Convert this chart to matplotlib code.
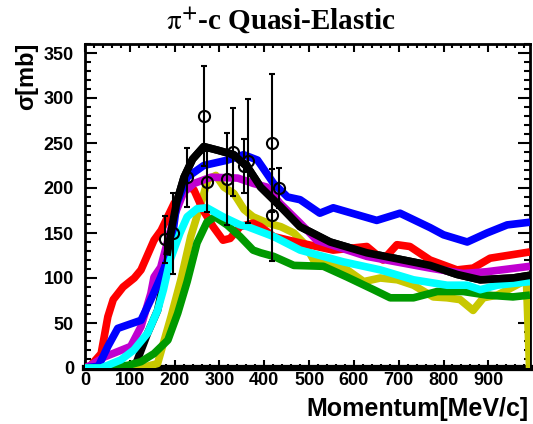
import matplotlib
matplotlib.use("Agg")
from matplotlib import pyplot as plt
from matplotlib.ticker import MultipleLocator

# curves (momentum in MeV/c, sigma in mb)
yellow_x = [0, 125, 162, 192, 214, 236, 263, 274, 292, 310, 332, 355, 375, 408, 437, 466, 490, 510, 548, 585, 622, 659, 697, 733, 777, 808, 837, 866, 889, 920, 955, 985, 992]
yellow_y = [0, 0, 5, 57, 98, 146, 190, 209, 214, 201, 194, 176, 168, 161, 157, 150, 138, 120, 118, 109, 96, 100, 98, 92, 79, 78, 76, 64, 78, 81, 90, 98, 0]

red_x = [0, 13, 36, 51, 63, 85, 110, 125, 154, 170, 199, 230, 243, 263, 286, 308, 324, 346, 375, 392, 421, 480, 554, 629, 665, 696, 725, 770, 830, 866, 904, 993]
red_y = [0, 3, 16, 57, 76, 90, 100, 109, 142, 153, 183, 201, 198, 176, 157, 142, 144, 157, 161, 157, 146, 139, 131, 135, 120, 137, 135, 120, 109, 111, 122, 129]

magenta_x = [0, 13, 42, 102, 125, 147, 154, 169, 200, 220, 243, 281, 341, 376, 406, 435, 480, 517, 629, 770, 844, 897, 993]
magenta_y = [0, 3, 12, 24, 46, 83, 101, 112, 170, 195, 205, 212, 211, 205, 201, 183, 161, 142, 124, 111, 105, 107, 113]

blue_x = [0, 30, 51, 73, 96, 125, 147, 169, 190, 205, 228, 265, 318, 354, 385, 421, 452, 480, 524, 554, 651, 703, 770, 800, 853, 897, 942, 993]
blue_y = [0, 2, 24, 44, 48, 53, 76, 101, 128, 183, 212, 225, 231, 237, 231, 205, 190, 187, 172, 178, 164, 172, 156, 148, 140, 150, 159, 162]

green_x = [0, 30, 58, 96, 125, 154, 185, 207, 228, 250, 272, 290, 317, 346, 375, 392, 421, 466, 532, 585, 644, 681, 733, 786, 844, 897, 955, 993]
green_y = [0, 0, 1, 3, 7, 16, 31, 61, 96, 139, 162, 168, 159, 146, 131, 128, 124, 114, 113, 101, 87, 78, 78, 85, 85, 81, 79, 81]

cyan_x = [0, 36, 80, 109, 140, 162, 175, 190, 212, 228, 250, 272, 308, 346, 363, 421, 480, 576, 659, 733, 808, 853, 882, 920, 993]
cyan_y = [0, 0, 9, 20, 39, 64, 87, 120, 150, 168, 177, 178, 168, 159, 157, 146, 131, 118, 109, 98, 92, 92, 87, 92, 96]

black_x = [110, 140, 162, 175, 183, 195, 205, 221, 240, 265, 296, 332, 363, 392, 437, 480, 547, 629, 700, 770, 830, 882, 955, 993]
black_y = [0, 39, 64, 95, 125, 160, 185, 212, 232, 246, 242, 237, 223, 201, 179, 157, 140, 128, 121, 114, 104, 98, 100, 103]

# measured points with errors
data_x = [178, 196, 228, 266, 272, 317, 330, 355, 364, 417, 417, 433]
data_y = [143, 150, 212, 280, 207, 210, 240, 224, 230, 250, 170, 200]
data_err = [26, 45, 33, 56, 34, 51, 49, 30, 69, 77, 51, 22]

fig = plt.figure(figsize=(5.33, 4.24), dpi=100)
ax = fig.add_axes([85/533, 1 - 368/424, (530 - 85)/533, (368 - 44)/424])

lw = 5.5
kw = dict(lw=lw, solid_joinstyle='round', solid_capstyle='butt')
# lower part of the black curve sits beneath the others, the rest on top
ax.plot(black_x, black_y, color='black', zorder=3, **kw)
ax.plot(yellow_x, yellow_y, color='#c8c800', zorder=3.1, **kw)
ax.plot(red_x, red_y, color='#ff0000', zorder=3.2, **kw)
ax.plot(magenta_x, magenta_y, color='#c000d0', zorder=3.3, **kw)
ax.plot(blue_x, blue_y, color='#0000ff', zorder=3.4, **kw)
ax.plot(green_x, green_y, color='#009900', zorder=3.5, **kw)
ax.plot(cyan_x, cyan_y, color='#00ffff', zorder=3.6, **kw)
ax.plot(black_x[4:], black_y[4:], color='black', zorder=3.7, **kw)

ax.errorbar(data_x, data_y, yerr=data_err, fmt='o', mfc='none', mec='black',
            ms=8, mew=1.5, ecolor='black', elinewidth=1.5, capsize=2.5, capthick=1.5, zorder=10)

ax.set_xlim(0, 993)
ax.set_ylim(0, 360)
ax.xaxis.set_major_locator(MultipleLocator(100))
ax.xaxis.set_minor_locator(MultipleLocator(20))
ax.yaxis.set_major_locator(MultipleLocator(50))
ax.yaxis.set_minor_locator(MultipleLocator(10))

for s in ax.spines.values():
    s.set_linewidth(2)
    s.set_zorder(2.5)
ax.spines['bottom'].set_linewidth(4.5)
ax.tick_params(axis='x', which='both', direction='in', top=True, width=1.5, pad=3)
ax.tick_params(axis='x', which='major', length=5.5)
ax.tick_params(axis='x', which='minor', length=2.8)
ax.tick_params(axis='y', which='both', direction='in', right=True, width=1.5, pad=8)
ax.tick_params(axis='y', which='major', length=8.5)
ax.tick_params(axis='y', which='minor', length=4.5)

xt = [0, 100, 200, 300, 400, 500, 600, 700, 800, 900]
ax.set_xticks(xt)
ax.set_xticklabels([str(v) for v in xt])
for lab in ax.get_xticklabels() + ax.get_yticklabels():
    lab.set_fontfamily('Liberation Sans')
    lab.set_fontweight('bold')
    lab.set_fontsize(13)

fig.text(281/533, 1 - 20/424, r'$\mathrm{\pi}^{\mathbf{+}}$-c Quasi-Elastic', ha='center', va='center',
         fontfamily='Liberation Serif', fontweight='bold', fontsize=21,
         math_fontfamily='stix')
fig.text(528/533, 1 - 409/424, 'Momentum[MeV/c]', ha='right', va='center',
         fontfamily='Liberation Sans', fontweight='bold', fontsize=18)
fig.text(27/533, 1 - 43/424, 'σ[mb]', ha='center', va='top', rotation=90,
         fontfamily='Liberation Sans', fontweight='bold', fontsize=17)

fig.savefig('out.png', dpi=100)
